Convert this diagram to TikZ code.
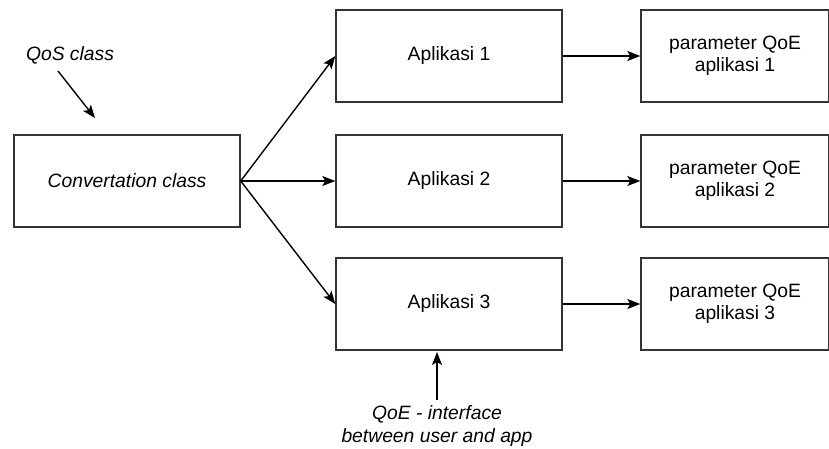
\documentclass[tikz,border=0pt]{standalone}
\usepackage{fontspec}
\setmainfont{Liberation Sans}
\usetikzlibrary{arrows.meta}
\begin{document}
\begin{tikzpicture}[x=1pt,y=-1pt,
  box/.style={draw=black!80,line width=1.4pt,fill=white,minimum width=226pt,minimum height=92pt,inner sep=0pt,align=center,font=\fontsize{19.3}{22.5}\selectfont},
  pbox/.style={box,minimum width=188pt},
  lbl/.style={align=center,font=\fontsize{19.3}{22.5}\selectfont\itshape},
  arr/.style={line width=1.4pt,-{Stealth[length=13pt,width=10pt,inset=3pt]}}]
\useasboundingbox (0,0) rectangle (829,448);
\node[box] (conv) at (127,181) {\itshape Convertation class};
\node[box] (a1) at (449,56) {Aplikasi 1};
\node[box] (a2) at (449,181) {Aplikasi 2};
\node[box] (a3) at (449,304) {Aplikasi 3};
\node[pbox] (p1) at (735,56) {parameter QoE\\aplikasi 1};
\node[pbox] (p2) at (735,181) {parameter QoE\\aplikasi 2};
\node[pbox] (p3) at (735,304) {parameter QoE\\aplikasi 3};
\node[lbl] (qos) at (70,55) {QoS class};
\node[lbl] (qoe) at (437,426) {QoE - interface\\between user and app};
\coordinate (qs) at (58,71);
\coordinate (qt) at (95,118);
\coordinate (es) at (437,400);
\coordinate (et) at (437,352);
\draw[arr] (conv.east) -- (a1.west);
\draw[arr] (conv.east) -- (a2.west);
\draw[arr] (conv.east) -- (a3.west);
\draw[arr] (a1.east) -- (p1.west);
\draw[arr] (a2.east) -- (p2.west);
\draw[arr] (a3.east) -- (p3.west);
\draw[arr] (qs) -- (qt);
\draw[arr] (es) -- (et);
\end{tikzpicture}
\end{document}
